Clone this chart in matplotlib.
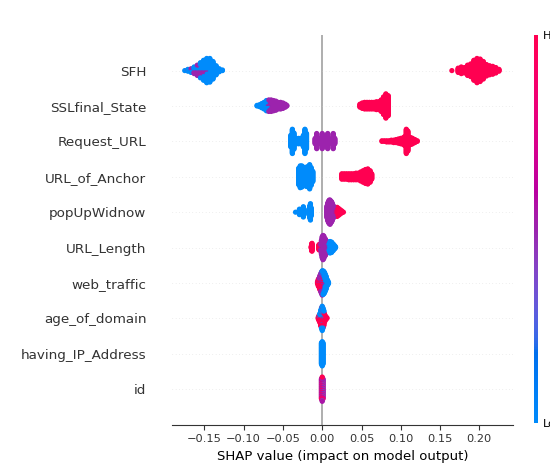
import numpy as np
import matplotlib
matplotlib.use("Agg")
import matplotlib.pyplot as plt
from matplotlib.colors import LinearSegmentedColormap
from matplotlib.cm import ScalarMappable

features = ["SFH", "SSLfinal_State", "Request_URL", "URL_of_Anchor", "popUpWidnow",
            "URL_Length", "web_traffic", "age_of_domain", "having_IP_Address", "id"]

# (shap value, number of samples, feature value from -1 low to 1 high)
sfh = [(-0.175, 1, -1), (-0.171, 3, -1), (-0.171, 1, 0), (-0.167, 4, -1), (-0.167, 3, 0),
       (-0.163, 6, 0), (-0.163, 6, -1), (-0.159, 10, 0), (-0.159, 8, -1),
       (-0.155, 12, 0), (-0.155, 14, -1), (-0.151, 10, 0), (-0.151, 24, -1),
       (-0.147, 6, 0), (-0.147, 35, -1), (-0.143, 2, 0), (-0.143, 38, -1),
       (-0.139, 30, -1), (-0.135, 16, -1), (-0.131, 6, -1), (-0.127, 2, -1),
       (0.165, 1, 1), (0.173, 8, 1), (0.177, 12, 1), (0.181, 10, 1), (0.185, 18, 1),
       (0.189, 22, 1), (0.193, 34, 1), (0.197, 41, 1), (0.201, 38, 1), (0.205, 30, 1),
       (0.209, 20, 1), (0.213, 16, 1), (0.217, 14, 1), (0.221, 10, 1), (0.225, 4, 1)]

ssl_state = [(-0.083, 2, -1), (-0.080, 4, -1), (-0.077, 8, -1), (-0.074, 10, -1), (-0.074, 2, 0),
             (-0.071, 12, -1), (-0.071, 6, 0), (-0.068, 8, -1), (-0.068, 12, 0),
             (-0.065, 4, -1), (-0.065, 16, 0), (-0.062, 2, -1), (-0.062, 16, 0), (-0.059, 16, 0),
             (-0.056, 12, 0), (-0.053, 12, 0), (-0.050, 10, 0), (-0.047, 6, 0), (-0.045, 2, 0),
             (0.048, 6, 1), (0.051, 10, 1), (0.054, 12, 1), (0.057, 12, 1), (0.060, 12, 1),
             (0.063, 12, 1), (0.066, 12, 1), (0.069, 14, 1), (0.072, 14, 1), (0.075, 20, 1),
             (0.078, 30, 1), (0.081, 41, 1), (0.084, 34, 1)]

request_url = [(-0.040, 20, -1), (-0.038, 41, -1), (-0.036, 28, -1), (-0.033, 10, -1),
               (-0.030, 10, -1), (-0.027, 10, -1), (-0.024, 20, -1), (-0.022, 41, -1), (-0.020, 26, -1),
               (-0.009, 10, 0), (-0.007, 26, 0), (-0.005, 10, 0), (-0.002, 8, 0), (0.000, 26, 0),
               (0.002, 8, 0), (0.005, 10, 0), (0.007, 26, 0), (0.009, 8, 0), (0.012, 8, 0),
               (0.014, 26, 0), (0.016, 10, 0),
               (0.076, 2, 1), (0.079, 2, 1), (0.082, 3, 1), (0.085, 3, 1), (0.088, 4, 1),
               (0.091, 5, 1), (0.094, 6, 1), (0.097, 8, 1), (0.100, 10, 1), (0.103, 12, 1),
               (0.105, 16, 1), (0.107, 41, 1), (0.109, 34, 1), (0.111, 14, 1), (0.113, 12, 1),
               (0.115, 10, 1), (0.118, 6, 1), (0.121, 2, 1)]

url_of_anchor = [(-0.030, 28, -1), (-0.028, 34, -1), (-0.028, 3, 0), (-0.026, 36, -1),
                 (-0.024, 32, -1), (-0.022, 30, -1), (-0.020, 30, -1), (-0.020, 3, 0),
                 (-0.018, 34, -1), (-0.016, 39, -1), (-0.016, 2, 0), (-0.014, 30, -1), (-0.012, 18, -1),
                 (0.025, 10, 1), (0.028, 10, 1), (0.031, 10, 1), (0.034, 11, 1), (0.037, 11, 1),
                 (0.040, 11, 1), (0.043, 12, 1), (0.046, 12, 1), (0.049, 16, 1), (0.052, 20, 1),
                 (0.055, 24, 1), (0.058, 26, 1), (0.061, 20, 1), (0.063, 10, 1)]

popup_window = [(-0.034, 1, -1), (-0.029, 10, -1), (-0.028, 4, -1), (-0.024, 18, -1),
                (-0.023, 10, -1), (-0.016, 20, -1), (-0.015, 28, -1), (-0.014, 14, -1),
                (0.006, 20, 0), (0.007, 30, 0), (0.008, 36, 0), (0.009, 40, 0), (0.010, 40, 0),
                (0.011, 36, 0), (0.012, 32, 0), (0.013, 28, 0), (0.014, 22, 0), (0.015, 16, 0),
                (0.010, 1, 1), (0.012, 2, 1), (0.017, 14, 1), (0.019, 16, 1), (0.021, 12, 1),
                (0.023, 8, 1), (0.025, 4, 1), (0.027, 1, 1)]

url_length = [(-0.014, 4, 1), (-0.0135, 12, 1), (-0.013, 14, 1), (-0.0125, 6, 1),
              (-0.0045, 6, 1), (-0.004, 10, 1), (-0.0035, 6, 1),
              (-0.002, 10, 0), (-0.001, 24, 0), (0.000, 36, 0), (0.001, 41, 0), (0.002, 38, 0),
              (0.003, 30, 0), (0.004, 22, 0), (0.005, 14, 0), (0.006, 8, 0),
              (0.004, 6, -1), (0.006, 12, -1), (0.008, 18, -1), (0.010, 20, -1), (0.012, 18, -1),
              (0.014, 12, -1), (0.016, 6, -1), (0.017, 2, -1)]

web_traffic = [(-0.006, 4, 1), (-0.005, 8, 1), (-0.005, 4, 0), (-0.004, 8, 1), (-0.004, 8, 0),
               (-0.003, 10, 1), (-0.003, 10, 0), (-0.003, 4, -1),
               (-0.002, 10, 1), (-0.002, 12, 0), (-0.002, 8, -1),
               (-0.001, 10, 1), (-0.001, 14, 0), (-0.001, 12, -1),
               (0.000, 10, 1), (0.000, 16, 0), (0.000, 15, -1),
               (0.001, 8, 1), (0.001, 14, 0), (0.001, 18, -1),
               (0.002, 6, 1), (0.002, 12, 0), (0.002, 20, -1),
               (0.003, 4, 1), (0.003, 10, 0), (0.003, 20, -1),
               (0.004, 6, 0), (0.004, 22, -1), (0.005, 4, 0), (0.005, 18, -1),
               (0.006, 12, -1), (0.007, 8, -1), (0.008, 3, -1)]

age_of_domain = [(-0.005, 4, 1), (-0.004, 6, 1), (-0.004, 4, -1), (-0.003, 8, 1), (-0.003, 8, -1),
                 (-0.002, 10, 1), (-0.002, 10, -1), (-0.002, 6, 0),
                 (-0.001, 12, 1), (-0.001, 14, -1), (-0.001, 8, 0),
                 (0.000, 14, 1), (0.000, 16, -1), (0.000, 11, 0),
                 (0.001, 12, 1), (0.001, 14, -1), (0.001, 8, 0),
                 (0.002, 10, 1), (0.002, 10, -1), (0.002, 6, 0),
                 (0.003, 8, 1), (0.003, 6, -1), (0.004, 6, 1), (0.004, 2, -1),
                 (0.005, 4, 1), (0.006, 2, 1)]

having_ip = [(-0.001, 36, -1), (0.000, 40, -1), (0.000, 1, 0.4), (0.001, 36, -1)]

id_col = [(-0.001, 12, 0.9), (-0.001, 12, 0.2), (-0.001, 10, -0.3),
          (0.000, 14, 1), (0.000, 14, 0.1), (0.000, 13, -0.2),
          (0.001, 12, 0.6), (0.001, 12, 0.0), (0.001, 10, -0.4)]

rows = [sfh, ssl_state, request_url, url_of_anchor, popup_window,
        url_length, web_traffic, age_of_domain, having_ip, id_col]


# shap's red_blue colormap (Lch interpolation)
def lch2rgb(l, c, h):
    a, b = c * np.cos(h), c * np.sin(h)
    fy = (l + 16) / 116
    fx = fy + a / 500
    fz = fy - b / 200

    def finv(t):
        return t ** 3 if t > 6 / 29 else 3 * (6 / 29) ** 2 * (t - 4 / 29)
    xyz = np.array([0.95047 * finv(fx), finv(fy), 1.08883 * finv(fz)])
    m = np.array([[3.2406, -1.5372, -0.4986],
                  [-0.9689, 1.8758, 0.0415],
                  [0.0557, -0.2040, 1.0570]])
    rgb = m @ xyz
    rgb = np.where(rgb <= 0.0031308, 12.92 * rgb, 1.055 * np.abs(rgb) ** (1 / 2.4) - 0.055)
    return np.clip(rgb, 0, 1)


nsteps = 100
l_vals = list(np.linspace(54, 40, nsteps // 2)) + list(np.linspace(40, 54, nsteps // 2))
c_vals = np.linspace(70, 90, nsteps)
h_vals = np.linspace(4.6588, 0.35470565 + 2 * np.pi, nsteps)
cmap = LinearSegmentedColormap.from_list(
    "red_blue", [lch2rgb(l, c, h) for l, c, h in zip(l_vals, c_vals, h_vals)])


def swarm_offsets(vals, k, nbins=100, row_height=0.4):
    quant = np.round(nbins * (vals - vals.min()) / (vals.max() - vals.min() + 1e-8))
    inds = np.lexsort((k, quant))
    ys = np.zeros(len(vals))
    layer = 0
    last_bin = -1
    for ind in inds:
        if quant[ind] != last_bin:
            layer = 0
        ys[ind] = np.ceil(layer / 2) * ((layer % 2) * 2 - 1)
        layer += 1
        last_bin = quant[ind]
    ys *= 0.9 * (row_height / np.max(ys + 1))
    return ys


fig = plt.figure(figsize=(5.5, 4.63), dpi=100)
ax = fig.add_axes([0.313, 0.083, 0.62, 0.841])

n = len(features)
ax.axvline(0, color="#999999", lw=1.1, zorder=-1)
for i, row in enumerate(rows):
    pos = n - 1 - i
    ax.axhline(pos, color="#cccccc", lw=0.4, dashes=(1, 5), zorder=-1)
    vals = np.repeat([r[0] for r in row], [r[1] for r in row])
    fv = np.repeat([r[2] for r in row], [r[1] for r in row])
    k = np.concatenate([np.arange(r[1]) for r in row])
    ys = swarm_offsets(vals, k)
    order = np.argsort(k, kind="stable")
    ax.scatter(vals[order], pos + ys[order], c=cmap((fv[order] + 1) / 2),
               s=14, linewidth=0, zorder=3)

ax.set_xlim(-0.191, 0.243)
ax.set_ylim(-1, n)
ax.set_xticks([-0.15, -0.10, -0.05, 0.00, 0.05, 0.10, 0.15, 0.20])
ax.set_yticks(range(n))
ax.set_yticklabels(features[::-1], fontsize=9.7)
ax.xaxis.set_ticks_position("bottom")
ax.yaxis.set_ticks_position("none")
for s in ["right", "top", "left"]:
    ax.spines[s].set_visible(False)
ax.spines["bottom"].set_color("#333333")
ax.tick_params(color="#333333", labelcolor="#333333")
ax.tick_params("y", length=15, width=0.4, which="major")
ax.tick_params("x", labelsize=8.2)
ax.set_xlabel("SHAP value (impact on model output)", fontsize=9.5)

cax = fig.add_axes([534 / 550, 0.0864, 4 / 550, 0.838])
sm = ScalarMappable(cmap=cmap)
sm.set_array([0, 1])
cb = fig.colorbar(sm, cax=cax, ticks=[0, 1])
cb.set_ticklabels(["Low", "High"])
cb.set_label("Feature value", size=9, labelpad=0)
cb.ax.tick_params(labelsize=8.2, length=0)
cb.outline.set_visible(False)

fig.savefig("out.png", dpi=100)
